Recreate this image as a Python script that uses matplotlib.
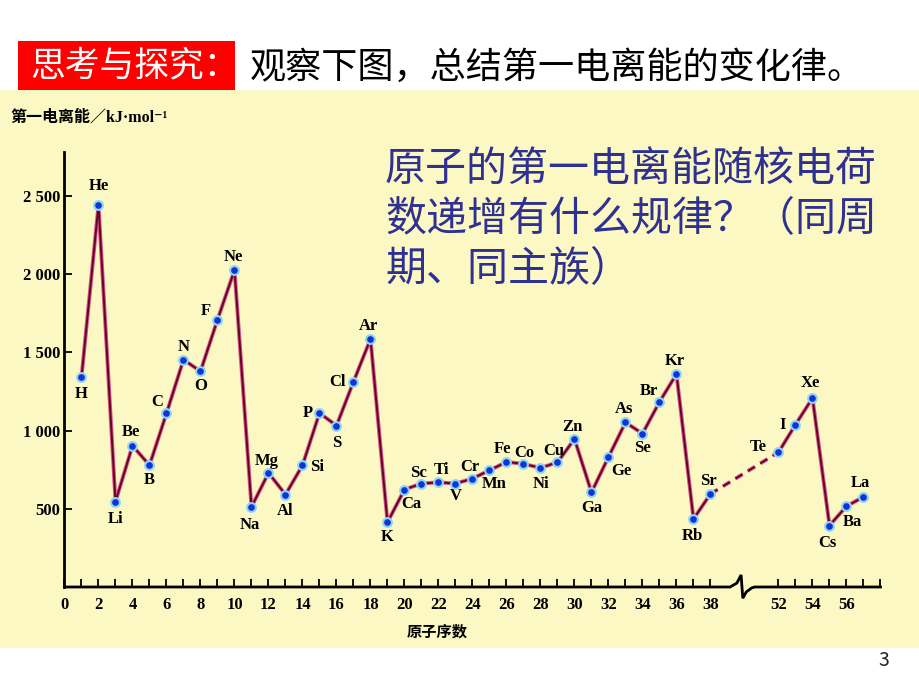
import matplotlib
matplotlib.use('Agg')
import matplotlib.pyplot as plt
from matplotlib.patches import Rectangle

plt.rcParams['font.family'] = ['Noto Sans CJK SC', 'DejaVu Sans']
plt.rcParams['lines.scale_dashes'] = False

# 数据：元素符号、原子序数、第一电离能 (kJ/mol)
symbols = ['H', 'He', 'Li', 'Be', 'B', 'C', 'N', 'O', 'F', 'Ne',
           'Na', 'Mg', 'Al', 'Si', 'P', 'S', 'Cl', 'Ar',
           'K', 'Ca', 'Sc', 'Ti', 'V', 'Cr', 'Mn', 'Fe', 'Co', 'Ni', 'Cu', 'Zn',
           'Ga', 'Ge', 'As', 'Se', 'Br', 'Kr', 'Rb', 'Sr',
           'Te', 'I', 'Xe', 'Cs', 'Ba', 'La']
atomic_numbers = list(range(1, 39)) + [52, 53, 54, 55, 56, 57]
ionization = [1340, 2442, 546, 903, 778, 1110, 1453, 1378, 1708, 2025,
              512, 729, 591, 778, 1112, 1031, 1312, 1585,
              414, 623, 661, 669, 661, 693, 746, 799, 787, 761, 797, 946,
              605, 831, 1052, 980, 1183, 1361, 435, 595,
              861, 1038, 1208, 393, 516, 576]

y_ticks = [500, 1000, 1500, 2000, 2500]
y_ticklabels = ['500', '1 000', '1 500', '2 000', '2 500']

title_tag = '思考与探究：'
title_text = '观察下图，总结第一电离能的变化律。'
question_lines = ['原子的第一电离能随核电荷', '数递增有什么规律？（同周', '期、同主族）']
ylabel_text = '第一电离能／kJ·mol⁻¹'
xlabel_text = '原子序数'

# 标签相对圆点的偏移 (像素, 向下为正)
label_offsets = [(0, 17), (0, -19), (0, 17), (-2, -14), (0, 15), (-9, -11), (0, -13), (0, 15), (-12, -9), (-1, -13),
                 (-2, 18), (-2, -12), (0, 16), (15, 2), (-12, 0), (0, 17), (-16, 0), (-2, -13),
                 (0, 15), (7, 14), (-3, -11), (3, -12), (0, 12), (-3, -12), (5, 14), (-4, -13), (1, -11), (0, 16),
                 (-4, -11), (-2, -12), (0, 16), (13, 14), (-1, -13), (0, 14), (-11, -11), (-2, -13), (-1, 17), (-2, -13),
                 (-20, -5), (-13, 0), (-2, -15), (-2, 17), (6, 16), (-3, -14)]

GAP = 10  # 横轴断开处压缩掉的序数


def to_axis(z):
    return z if z <= 38 else z - GAP


xs = [to_axis(z) for z in atomic_numbers]

fig = plt.figure(figsize=(9.2, 6.9), dpi=100, facecolor='white')

# 背景面板和标题
fig.patches.append(Rectangle((0, 42 / 690), 1, 558 / 690, transform=fig.transFigure,
                             facecolor='#FCF8C4', edgecolor='none', zorder=-10))
fig.patches.append(Rectangle((18 / 920, 1 - 90 / 690), 217 / 920, 49 / 690, transform=fig.transFigure,
                             facecolor='#FF0000', edgecolor='none', zorder=-5))
fig.text(30 / 920, 1 - 66 / 690, title_tag, color='white', fontsize=25, va='center')
fig.text(250 / 920, 1 - 68 / 690, title_text, color='black', fontsize=26, va='center')
for i, line in enumerate(question_lines):
    fig.text(385 / 920, 1 - (170 + 50 * i) / 690, line, color='#2E3192', fontsize=29.5, va='center')
fig.text(10 / 920, 1 - 118 / 690, ylabel_text, fontsize=11.5, weight='bold', va='center',
         family=['Liberation Serif', 'Noto Sans CJK SC', 'DejaVu Sans'])
fig.text(437 / 920, 1 - 632 / 690, xlabel_text, fontsize=11, weight='bold', ha='center', va='center')
fig.text(884 / 920, 1 - 660 / 690, '3', fontsize=14, ha='center', va='center', color='#222222')

ax = fig.add_axes([64.5 / 920, 103 / 690, 816 / 920, 435 / 690], zorder=2)
ax.set_facecolor('none')
ax.set_xlim(0, 48)
ax.set_ylim(0, 2780)

# 折线：1-38 实线，38-52 虚线，52-57 实线
n1 = atomic_numbers.index(38) + 1
segments = [(xs[:n1], ionization[:n1], '-'),
            (xs[n1 - 1:n1 + 1], ionization[n1 - 1:n1 + 1], (0, (6, 4.5))),
            (xs[n1:], ionization[n1:], '-')]
for sx, sy, ls in segments:
    ax.plot(sx, sy, color='#E0508A', lw=2.8, linestyle=ls, zorder=2)
    ax.plot(sx, sy, color='#5E0828', lw=1.4, linestyle=ls, zorder=3)

ax.scatter(xs, ionization, s=40, color='#1232D6', edgecolors='#8CD6F2', linewidths=1.5, zorder=4)

for sym, x, y, (dx, dy) in zip(symbols, xs, ionization, label_offsets):
    ax.annotate(sym, (x, y), xytext=(dx * 0.72, -dy * 0.72), textcoords='offset points',
                ha='center', va='center', fontsize=12, weight='bold', family='Liberation Serif')

# 坐标轴
for side in ['top', 'right', 'bottom']:
    ax.spines[side].set_visible(False)
ax.spines['left'].set_linewidth(2)

tick_pos = list(range(0, 39)) + list(range(52, 59))
ax.set_xticks([to_axis(z) for z in tick_pos])
ax.set_xticklabels([str(z) if (z % 2 == 0 and z != 58) else '' for z in tick_pos])
ax.set_yticks(y_ticks)
ax.set_yticklabels(y_ticklabels)
ax.tick_params(axis='both', direction='in', length=6, width=1.3, colors='black')
ax.tick_params(axis='x', pad=7)
ax.tick_params(axis='y', pad=3)
for lab in ax.get_xticklabels() + ax.get_yticklabels():
    lab.set_fontfamily('Liberation Serif')
    lab.set_fontweight('bold')
    lab.set_fontsize(12)

# 横轴和断开符号
bx = [0, 39.15, 39.55, 39.8, 39.9, 40.1, 40.42, 40.6, 48]
by = [0, 0, 25, 77, -72, -32, -6, 0, 0]
ax.plot(bx, by, color='black', lw=2, clip_on=False, zorder=5, solid_joinstyle='miter')

fig.savefig('out.png', dpi=100, facecolor='white')
